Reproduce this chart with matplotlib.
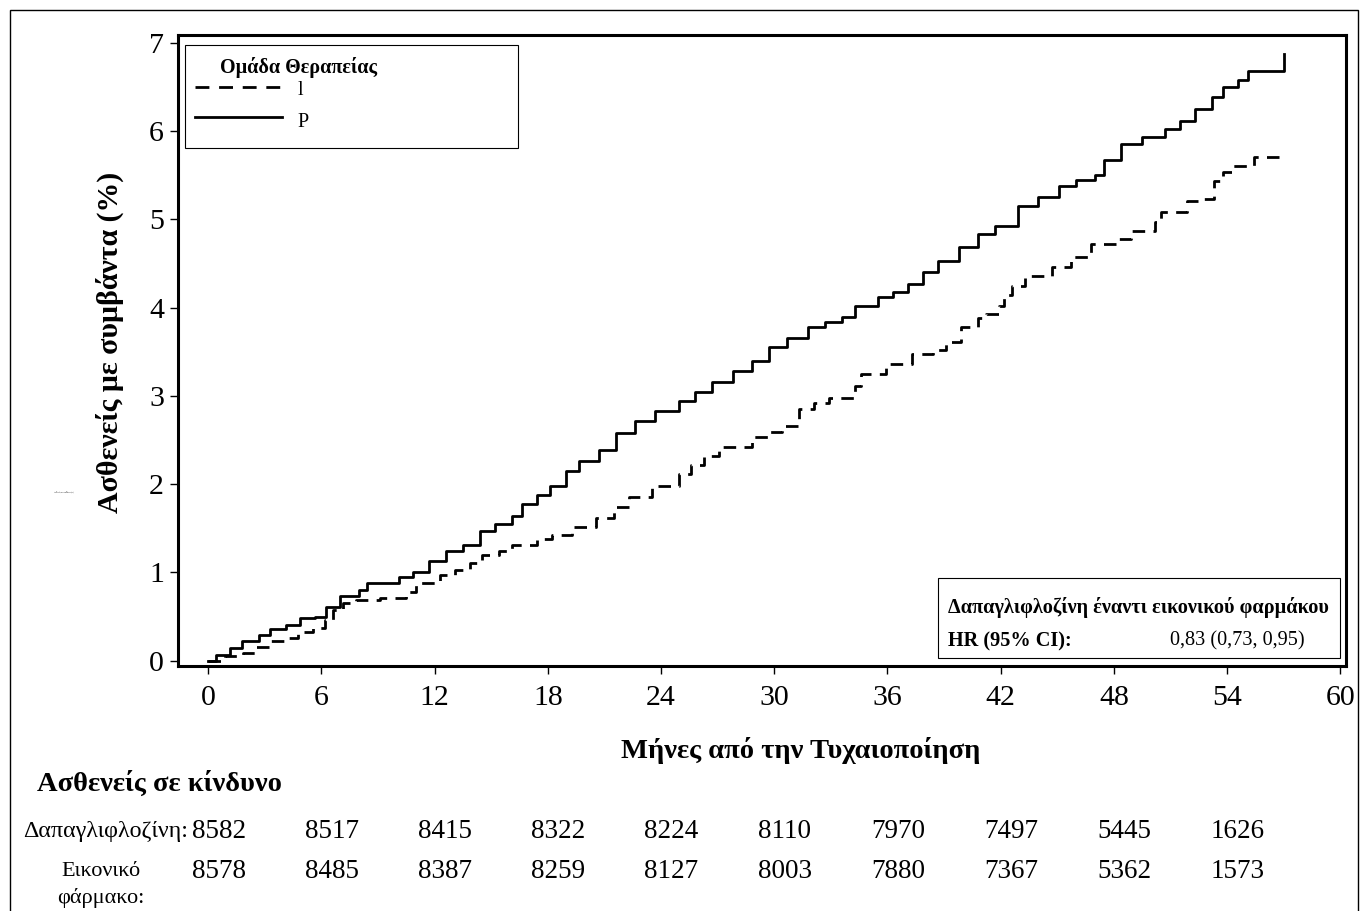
import matplotlib
matplotlib.use("Agg")
import matplotlib.pyplot as plt
from matplotlib.patches import Rectangle
from matplotlib.lines import Line2D
from matplotlib.transforms import blended_transform_factory

plt.rcParams['font.family'] = ['Liberation Serif', 'DejaVu Serif']

# Kaplan-Meier cumulative events (%)
t_placebo = [0, 0.44, 1.15, 1.8, 2.7, 3.26, 4.15, 4.85, 5.65, 6.26, 6.97, 8.0, 8.4, 10.1, 10.85,
             11.7, 12.6, 13.5, 14.4, 15.2, 16.1, 16.65, 17.4, 18.1, 18.96, 19.65, 20.7, 21.6,
             22.6, 23.7, 24.95, 25.8, 26.7, 27.8, 28.8, 29.7, 30.7, 31.8, 32.7, 33.6, 34.3,
             35.5, 36.3, 37.1, 37.9, 38.7, 39.8, 40.8, 41.7, 42.9, 44.0, 45.1, 46.0, 47.0,
             47.5, 48.4, 49.5, 50.7, 51.5, 52.3, 53.2, 53.8, 54.6, 55.1, 57.0]
v_placebo = [0, 0.07, 0.14, 0.22, 0.29, 0.36, 0.41, 0.48, 0.5, 0.61, 0.73, 0.80, 0.88, 0.95, 1.01,
             1.13, 1.24, 1.31, 1.47, 1.55, 1.64, 1.77, 1.88, 1.98, 2.15, 2.26, 2.39, 2.58,
             2.72, 2.83, 2.94, 3.05, 3.16, 3.28, 3.40, 3.55, 3.66, 3.78, 3.84, 3.89, 4.02,
             4.12, 4.18, 4.27, 4.40, 4.53, 4.69, 4.84, 4.93, 5.15, 5.25, 5.38, 5.45, 5.50,
             5.67, 5.86, 5.93, 6.03, 6.12, 6.25, 6.39, 6.5, 6.58, 6.68, 6.88]

t_dapa = [0, 0.88, 1.85, 2.56, 3.26, 4.15, 4.75, 5.55, 6.17, 6.6, 7.15, 7.85, 9.1, 10.5, 11.0,
          12.26, 13.1, 13.85, 14.5, 15.4, 16.1, 17.4, 18.2, 19.3, 20.55, 21.5, 22.3, 23.5,
          24.95, 25.6, 26.3, 27.05, 28.8, 29.7, 30.4, 31.3, 32.1, 32.9, 34.3, 34.6, 35.9,
          37.3, 38.4, 39.1, 39.9, 40.8, 41.2, 41.9, 42.2, 42.6, 43.3, 44.7, 45.7, 46.8,
          48.2, 48.9, 50.2, 50.5, 51.9, 52.8, 53.3, 53.8, 54.3, 55.4, 57.0]
v_dapa = [0, 0.05, 0.09, 0.15, 0.22, 0.26, 0.32, 0.37, 0.46, 0.58, 0.65, 0.69, 0.71, 0.78, 0.88,
          0.97, 1.03, 1.11, 1.2, 1.24, 1.31, 1.38, 1.43, 1.51, 1.62, 1.74, 1.86, 1.98,
          2.11, 2.22, 2.32, 2.42, 2.53, 2.59, 2.66, 2.85, 2.92, 2.98, 3.11, 3.25, 3.36,
          3.47, 3.52, 3.61, 3.78, 3.88, 3.93, 4.02, 4.14, 4.25, 4.36, 4.46, 4.57, 4.72,
          4.78, 4.87, 4.97, 5.08, 5.21, 5.23, 5.43, 5.54, 5.61, 5.71, 5.71]

# patients at risk
risk_months = [0, 6, 12, 18, 24, 30, 36, 42, 48, 54]
risk_dapa = [8582, 8517, 8415, 8322, 8224, 8110, 7970, 7497, 5445, 1626]
risk_placebo = [8578, 8485, 8387, 8259, 8127, 8003, 7880, 7367, 5362, 1573]

W, H = 1360, 911
fig = plt.figure(figsize=(W / 100, H / 100), dpi=100)

# outer frame
fig.patches.append(Rectangle((10 / W, -0.01), (1358 - 10) / W, 1.01 - 10 / H,
                             transform=fig.transFigure, fill=False, edgecolor='black', lw=1))

ax = fig.add_axes([178 / W, 1 - 666 / H, (1346 - 178) / W, (666 - 35) / H])
ax.plot(t_dapa, v_dapa, drawstyle='steps-post', color='black', lw=2.0, linestyle=(0, (4.5, 3)))
ax.plot(t_placebo, v_placebo, drawstyle='steps-post', color='black', lw=2.0)

ax.set_xlim(-1.6, 60.3)
ax.set_ylim(-0.06, 7.09)
ax.set_xticks(range(0, 61, 6))
ax.set_yticks(range(0, 8))
for s in ax.spines.values():
    s.set_linewidth(2.2)
ax.tick_params(direction='out', length=6, width=1, labelsize=21.5, pad=4)
ax.tick_params(axis='x', pad=8)

# legend (drawn by hand, wide box)
ax.add_patch(Rectangle((0.006, 0.821), 0.285, 0.163, transform=ax.transAxes,
                       fill=False, edgecolor='black', lw=0.8))
ax.text(0.036, 0.948, 'Ομάδα Θεραπείας', transform=ax.transAxes, fontsize=14.5,
        fontweight='bold', va='center', ha='left')
ax.add_line(Line2D([0.0146, 0.089], [0.918, 0.918], transform=ax.transAxes, color='black',
                   lw=2.0, linestyle=(0, (5, 3.5))))
ax.add_line(Line2D([0.0146, 0.089], [0.870, 0.870], transform=ax.transAxes, color='black', lw=2.0))
ax.text(0.102, 0.912, 'l', transform=ax.transAxes, fontsize=14.5, va='center', ha='left')
ax.text(0.102, 0.862, 'P', transform=ax.transAxes, fontsize=14.5, va='center', ha='left')

# hazard ratio box
ax.add_patch(Rectangle((0.6507, 0.0127), 0.3442, 0.1268, transform=ax.transAxes,
                       fill=False, edgecolor='black', lw=0.8))
ax.text(0.659, 0.0935, 'Δαπαγλιφλοζίνη έναντι εικονικού φαρμάκου', transform=ax.transAxes,
        fontsize=14.6, fontweight='bold', va='center', ha='left')
ax.text(0.659, 0.0396, 'HR (95% CI):', transform=ax.transAxes,
        fontsize=14.6, fontweight='bold', va='center', ha='left')
ax.text(0.849, 0.0396, '0,83 (0,73, 0,95)', transform=ax.transAxes,
        fontsize=14.6, va='center', ha='left')

# axis labels
fig.text(0.081, 0.6246, 'Ασθενείς με συμβάντα (%)', rotation=90, fontsize=21.5,
         fontweight='bold', ha='center', va='center')
fig.text(0.589, 0.1767, 'Μήνες από την Τυχαιοποίηση', fontsize=20.5,
         fontweight='bold', ha='center', va='center')
fig.text(0.047, 0.46, 'Ασθενείς με συμβάντα (%)', fontsize=1.3, ha='center', va='center')

# risk table
fig.text(37 / W, 1 - 784 / H, 'Ασθενείς σε κίνδυνο', fontsize=20.5, fontweight='bold',
         ha='left', va='center')
fig.text(188 / W, 1 - 831 / H, 'Δαπαγλιφλοζίνη:', fontsize=17.3, ha='right', va='center')
fig.text(101 / W, 1 - 885 / H, 'Εικονικό\nφάρμακο:', fontsize=16, ha='center', va='center',
         multialignment='center', linespacing=1.4)
trans = blended_transform_factory(ax.transData, fig.transFigure)
for m, a, b in zip(risk_months, risk_dapa, risk_placebo):
    fig.text(m + 0.55, 1 - 831 / H, str(a), transform=trans, fontsize=19.5, ha='center', va='center')
    fig.text(m + 0.55, 1 - 872 / H, str(b), transform=trans, fontsize=19.5, ha='center', va='center')

fig.savefig('out.png', dpi=100)
